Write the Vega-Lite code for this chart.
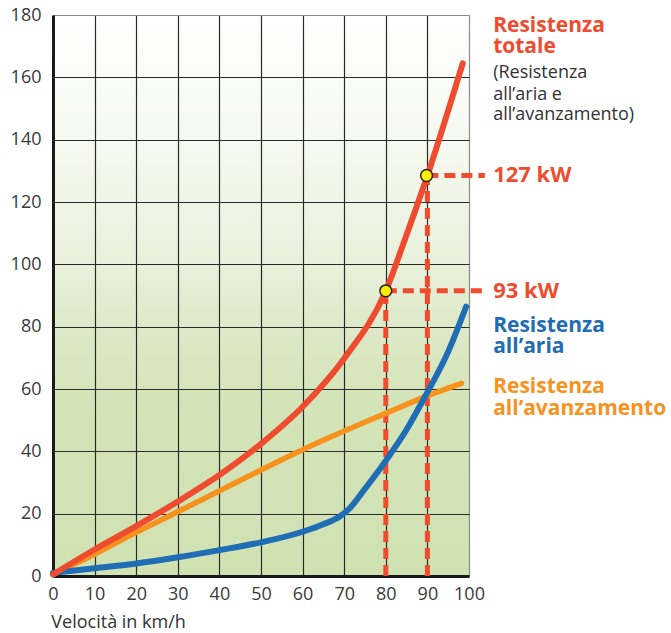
{
  "$schema": "https://vega.github.io/schema/vega-lite/v6.json",
  "width": 416,
  "height": 561,
  "autosize": {"type": "none"},
  "padding": {"left": 53, "top": 15, "right": 202, "bottom": 57},
  "background": "white",
  "view": {
    "stroke": null,
    "fill": {
      "gradient": "linear",
      "x1": 0, "y1": 0, "x2": 0, "y2": 1,
      "stops": [
        {"offset": 0, "color": "#ffffff"},
        {"offset": 0.22, "color": "#f6f9f0"},
        {"offset": 0.44, "color": "#e9f1dc"},
        {"offset": 0.56, "color": "#dde9c8"},
        {"offset": 0.7, "color": "#d3e4b7"},
        {"offset": 1, "color": "#d0e2b2"}
      ]
    }
  },
  "config": {
    "font": "Open Sans",
    "text": {"font": "Open Sans"}
  },
  "datasets": {
    "curves": [
      {"s": "avanzamento", "v": 0, "p": 0.5},
      {"s": "avanzamento", "v": 10, "p": 7},
      {"s": "avanzamento", "v": 20, "p": 14},
      {"s": "avanzamento", "v": 30, "p": 20.6},
      {"s": "avanzamento", "v": 40, "p": 27.3},
      {"s": "avanzamento", "v": 50, "p": 34},
      {"s": "avanzamento", "v": 60, "p": 40.5},
      {"s": "avanzamento", "v": 70, "p": 46.5},
      {"s": "avanzamento", "v": 80, "p": 52.2},
      {"s": "avanzamento", "v": 90, "p": 57.8},
      {"s": "avanzamento", "v": 98.2, "p": 61.8},
      {"s": "aria", "v": 0, "p": 1},
      {"s": "aria", "v": 10, "p": 2.5},
      {"s": "aria", "v": 20, "p": 4},
      {"s": "aria", "v": 30, "p": 6},
      {"s": "aria", "v": 40, "p": 8.3},
      {"s": "aria", "v": 50, "p": 10.8},
      {"s": "aria", "v": 60, "p": 14.2},
      {"s": "aria", "v": 65, "p": 16.6},
      {"s": "aria", "v": 69, "p": 19.2},
      {"s": "aria", "v": 71, "p": 21.3},
      {"s": "aria", "v": 75, "p": 28},
      {"s": "aria", "v": 80, "p": 37},
      {"s": "aria", "v": 85, "p": 47},
      {"s": "aria", "v": 89.4, "p": 57.5},
      {"s": "aria", "v": 95, "p": 72},
      {"s": "aria", "v": 99.3, "p": 86.4},
      {"s": "totale", "v": 0, "p": 0.5},
      {"s": "totale", "v": 10, "p": 8.5},
      {"s": "totale", "v": 20, "p": 16},
      {"s": "totale", "v": 30, "p": 23.9},
      {"s": "totale", "v": 40, "p": 32.4},
      {"s": "totale", "v": 50, "p": 42.4},
      {"s": "totale", "v": 60, "p": 54.3},
      {"s": "totale", "v": 70, "p": 69.8},
      {"s": "totale", "v": 80, "p": 91.5},
      {"s": "totale", "v": 85, "p": 109.5},
      {"s": "totale", "v": 90, "p": 128.5},
      {"s": "totale", "v": 98.5, "p": 164.5}
    ],
    "dashes": [
      {"x": 80, "y": 91.5, "x2": 103.8, "y2": 91.5},
      {"x": 90, "y": 128.5, "x2": 103.8, "y2": 128.5},
      {"x": 80, "y": 0, "x2": 80, "y2": 91.5},
      {"x": 90, "y": 0, "x2": 90, "y2": 128.5}
    ],
    "pts": [{"v": 80, "p": 91.5}, {"v": 89.8, "p": 128.5}],
    "labels": [
      {"t": "Resistenza", "x": 105.8, "y": 174.5, "s": "totale", "k": "bold"},
      {"t": "totale", "x": 105.8, "y": 167.7, "s": "totale", "k": "bold"},
      {"t": "(Resistenza", "x": 105.8, "y": 159.8, "s": "nota", "k": "normal"},
      {"t": "all’aria e", "x": 105.8, "y": 152.8, "s": "nota", "k": "normal"},
      {"t": "all’avanzamento)", "x": 105.8, "y": 146.2, "s": "nota", "k": "normal"},
      {"t": "127 kW", "x": 105.8, "y": 126.5, "s": "totale", "k": "big"},
      {"t": "93 kW", "x": 105.8, "y": 89.3, "s": "totale", "k": "big"},
      {"t": "Resistenza", "x": 105.8, "y": 78.4, "s": "aria", "k": "bold"},
      {"t": "all’aria", "x": 105.8, "y": 71.5, "s": "aria", "k": "bold"},
      {"t": "Resistenza", "x": 105.8, "y": 58.7, "s": "avanzamento", "k": "bold"},
      {"t": "all’avanzamento", "x": 105.8, "y": 51.7, "s": "avanzamento", "k": "bold"},
      {"t": "Velocità in km/h", "x": -0.4, "y": -16.6, "s": "nota", "k": "title"}
    ]
  },
  "layer": [
    {
      "data": {"name": "dashes"},
      "mark": {"type": "rule", "color": "#ef4b2f", "strokeWidth": 5, "strokeDash": [11, 6], "strokeCap": "butt"},
      "encoding": {
        "x": {"field": "x", "type": "quantitative", "scale": {"domain": [0, 100], "nice": false},
          "axis": {
            "values": [0, 10, 20, 30, 40, 50, 60, 70, 80, 90, 100],
            "ticks": false,
            "labelFlush": false,
            "domainColor": "#1a1a1a", "domainWidth": 3,
            "grid": true,
            "gridColor": {"condition": {"test": "datum.value == 100", "value": "#8a8a8a"}, "value": "#2a2a2a"},
            "gridWidth": 1.2,
            "labelFontSize": 18, "labelColor": "#3a3a3a", "labelPadding": 9, "labelFont": "Open Sans",
            "title": null
          }},
        "y": {"field": "y", "type": "quantitative", "scale": {"domain": [0, 180], "nice": false},
          "axis": {
            "values": [0, 20, 40, 60, 80, 100, 120, 140, 160, 180],
            "ticks": false,
            "labelFlush": false,
            "domainColor": "#1a1a1a", "domainWidth": 3,
            "grid": true,
            "gridColor": {"condition": {"test": "datum.value == 180", "value": "#8a8a8a"}, "value": "#2a2a2a"},
            "gridWidth": 1.2,
            "labelFontSize": 18, "labelColor": "#3a3a3a", "labelPadding": 12, "labelFont": "Open Sans",
            "title": null
          }},
        "x2": {"field": "x2"},
        "y2": {"field": "y2"}
      }
    },
    {
      "data": {"name": "curves"},
      "transform": [{"filter": "datum.s == 'avanzamento'"}],
      "mark": {"type": "line", "strokeWidth": 5.5, "interpolate": "monotone", "strokeCap": "round"},
      "encoding": {
        "x": {"field": "v", "type": "quantitative"},
        "y": {"field": "p", "type": "quantitative"},
        "color": {"field": "s", "type": "nominal", "legend": null,
          "scale": {"domain": ["totale", "aria", "avanzamento", "nota"], "range": ["#ef4b2f", "#1f6db5", "#f7921e", "#333333"]}}
      }
    },
    {
      "data": {"name": "curves"},
      "transform": [{"filter": "datum.s == 'aria'"}],
      "mark": {"type": "line", "strokeWidth": 6, "interpolate": "monotone", "strokeCap": "round"},
      "encoding": {
        "x": {"field": "v", "type": "quantitative"},
        "y": {"field": "p", "type": "quantitative"},
        "color": {"field": "s", "type": "nominal", "legend": null}
      }
    },
    {
      "data": {"name": "curves"},
      "transform": [{"filter": "datum.s == 'totale'"}],
      "mark": {"type": "line", "strokeWidth": 6, "interpolate": "monotone", "strokeCap": "round"},
      "encoding": {
        "x": {"field": "v", "type": "quantitative"},
        "y": {"field": "p", "type": "quantitative"},
        "color": {"field": "s", "type": "nominal", "legend": null}
      }
    },
    {
      "data": {"name": "pts"},
      "mark": {"type": "point", "filled": true, "fill": "#ffec00", "stroke": "#222222", "strokeWidth": 1.5, "size": 140, "opacity": 1},
      "encoding": {
        "x": {"field": "v", "type": "quantitative"},
        "y": {"field": "p", "type": "quantitative"}
      }
    },
    {
      "data": {"name": "labels"},
      "transform": [{"filter": "datum.k == 'bold'"}],
      "mark": {"type": "text", "align": "left", "baseline": "alphabetic", "fontSize": 21, "fontWeight": "bold", "font": "Open Sans"},
      "encoding": {
        "x": {"field": "x", "type": "quantitative"},
        "y": {"field": "y", "type": "quantitative"},
        "text": {"field": "t"},
        "color": {"field": "s", "type": "nominal", "legend": null}
      }
    },
    {
      "data": {"name": "labels"},
      "transform": [{"filter": "datum.k == 'big'"}],
      "mark": {"type": "text", "align": "left", "baseline": "alphabetic", "fontSize": 22, "fontWeight": "bold", "font": "Open Sans"},
      "encoding": {
        "x": {"field": "x", "type": "quantitative"},
        "y": {"field": "y", "type": "quantitative"},
        "text": {"field": "t"},
        "color": {"field": "s", "type": "nominal", "legend": null}
      }
    },
    {
      "data": {"name": "labels"},
      "transform": [{"filter": "datum.k == 'normal'"}],
      "mark": {"type": "text", "align": "left", "baseline": "alphabetic", "fontSize": 18, "font": "Open Sans"},
      "encoding": {
        "x": {"field": "x", "type": "quantitative"},
        "y": {"field": "y", "type": "quantitative"},
        "text": {"field": "t"},
        "color": {"field": "s", "type": "nominal", "legend": null}
      }
    },
    {
      "data": {"name": "labels"},
      "transform": [{"filter": "datum.k == 'title'"}],
      "mark": {"type": "text", "align": "left", "baseline": "alphabetic", "fontSize": 18, "font": "Open Sans"},
      "encoding": {
        "x": {"field": "x", "type": "quantitative"},
        "y": {"field": "y", "type": "quantitative"},
        "text": {"field": "t"},
        "color": {"field": "s", "type": "nominal", "legend": null}
      }
    }
  ]
}
